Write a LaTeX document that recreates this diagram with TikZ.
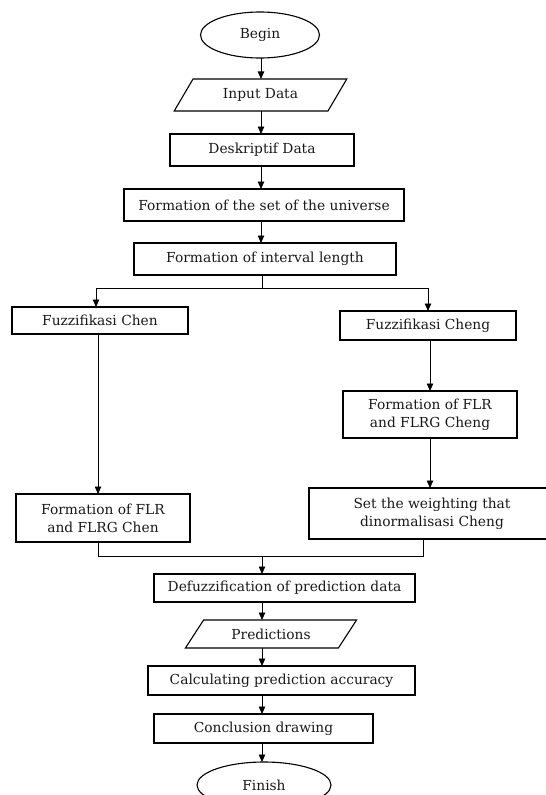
\documentclass[tikz,border=0pt]{standalone}
\usepackage{fontspec}
\setmainfont{DejaVu Serif}
\usetikzlibrary{shapes.geometric,arrows.meta}
\begin{document}
\begin{tikzpicture}[x=1pt,y=-1pt,
  txt/.style={font=\fontsize{13.8}{18}\selectfont,text=black!90},
  box/.style={txt,draw,line width=1.1pt,rectangle,inner sep=0pt,outer sep=0pt,align=center},
  term/.style={txt,draw,line width=1.1pt,ellipse,inner sep=0pt,outer sep=0pt},
  io/.style={txt,draw,line width=1.1pt,trapezium,trapezium stretches=true,inner sep=0pt,outer sep=0pt},
  ln/.style={line width=0.8pt},
  arr/.style={line width=0.8pt,-{Triangle[length=7.5pt,width=6.5pt]}}]
\useasboundingbox (0,0) rectangle (546,795);
% nodes
\node[term,minimum width=119pt,minimum height=46pt] (begin) at (260,35) {Begin};
\node[io,minimum width=173pt,minimum height=32pt,trapezium left angle=51,trapezium right angle=129] (input) at (260.5,95) {Input Data};
\node[box,minimum width=184pt,minimum height=32pt] (desk) at (262,150) {Deskriptif Data};
\node[box,minimum width=280pt,minimum height=32pt] (univ) at (264,205) {Formation of the set of the universe};
\node[box,minimum width=262pt,minimum height=32pt] (intv) at (265,259) {Formation of interval length};
\node[box,minimum width=176pt,minimum height=27pt] (chen) at (100,320.5) {Fuzzifikasi Chen};
\node[box,minimum width=176pt,minimum height=29pt] (cheng) at (428,325.5) {Fuzzifikasi Cheng};
\node[box,minimum width=174pt,minimum height=47pt] (flrcheng) at (430,414.5) {Formation of FLR\\and FLRG Cheng};
\node[box,minimum width=174pt,minimum height=48pt] (flrchen) at (103,518) {Formation of FLR\\and FLRG Chen};
\node[box,minimum width=246pt,minimum height=51pt] (weight) at (432,513.5) {Set the weighting that\\dinormalisasi Cheng};
\node[box,minimum width=261pt,minimum height=28pt] (defuzz) at (284.5,588) {Defuzzification of prediction data};
\node[io,minimum width=172pt,minimum height=28pt,trapezium left angle=45,trapezium right angle=135] (pred) at (271,634) {Predictions};
\node[box,minimum width=267pt,minimum height=29pt] (calc) at (281.5,680.5) {Calculating prediction accuracy};
\node[box,minimum width=219pt,minimum height=29pt] (concl) at (263.5,728.5) {Conclusion drawing};
\node[term,minimum width=134pt,minimum height=46pt] (finish) at (264,785) {Finish};
% helper coordinates
\coordinate (tx) at (261,0);
\coordinate (split) at (262,288);
\coordinate (lft) at (96,288);
\coordinate (rgt) at (428,288);
\coordinate (cl) at (98,0);
\coordinate (rx) at (430,0);
\coordinate (mr) at (423,0);
\coordinate (mrg) at (262,556);
% connectors
\draw[arr] (tx |- begin.south) -- (tx |- input.north);
\draw[arr] (tx |- input.south) -- (tx |- desk.north);
\draw[arr] (tx |- desk.south) -- (tx |- univ.north);
\draw[arr] (tx |- univ.south) -- (tx |- intv.north);
\draw[ln] (split |- intv.south) -- (split);
\draw[arr] (split) -- (lft) -- (lft |- chen.north);
\draw[arr] (split) -- (rgt) -- (rgt |- cheng.north);
\draw[arr] (cl |- chen.south) -- (cl |- flrchen.north);
\draw[arr] (rx |- cheng.south) -- (rx |- flrcheng.north);
\draw[arr] (rx |- flrcheng.south) -- (rx |- weight.north);
\draw[ln] (cl |- flrchen.south) -- (cl |- mrg) -- (mr |- mrg) -- (mr |- weight.south);
\draw[arr] (mrg) -- (mrg |- defuzz.north);
\draw[arr] (mrg |- defuzz.south) -- (mrg |- pred.north);
\draw[arr] (mrg |- pred.south) -- (mrg |- calc.north);
\draw[arr] (mrg |- calc.south) -- (mrg |- concl.north);
\draw[arr] (mrg |- concl.south) -- (mrg |- finish.north);
\end{tikzpicture}
\end{document}
